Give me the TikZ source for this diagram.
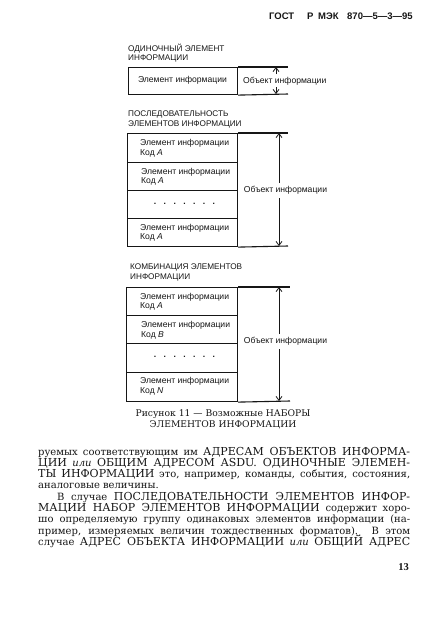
\documentclass[tikz,border=0pt]{standalone}
\usepackage{fontspec}
\setmainfont{DejaVu Serif}
\newfontfamily\dsans{Liberation Sans}
\newfontfamily\lserif{Liberation Serif}
\usetikzlibrary{arrows.meta}
\definecolor{ink}{RGB}{22,22,22}
\newcommand{\capsw}[1]{{\fontsize{11}{12}\selectfont #1}}
\begin{document}
\begin{tikzpicture}[x=1pt,y=-1pt,
  cell/.style={draw=ink, line width=1.1pt, minimum width=110pt, inner sep=0pt, anchor=north west},
  frame/.style={draw=ink, line width=1.1pt},
  arr/.style={draw=ink, line width=0.8pt, -{Straight Barb[length=4pt,width=6pt]}},
  lab/.style={font=\dsans\fontsize{8.6}{9.5}\selectfont, inner sep=0pt, text=ink},
  el/.style={lab, align=left, anchor=west},
  ttl/.style={font=\dsans\fontsize{8.2}{9.5}\selectfont, inner sep=0pt, text=ink, align=left, anchor=west},
  bl/.style={anchor=base west, inner sep=0pt, text=ink, font=\fontsize{10}{12}\selectfont},
  captxt/.style={inner sep=0pt, text=ink, font=\fontsize{9.2}{10}\selectfont},
  hd/.style={anchor=west, inner sep=0pt, text=ink, font=\dsans\bfseries\fontsize{9.5}{10}\selectfont}]
\fill[white] (0,0) rectangle (427,635);
\useasboundingbox (0,0) rectangle (427,635);

% header
\node[hd] (h1) at (269,16.5) {ГОСТ};
\node[hd] (h2) at (307,16.5) {Р};
\node[hd] (h3) at (318,16.5) {МЭК};
\node[hd] (h4) at (347,16.5) {870—5—3—95};

% ---- single element
\node[ttl] (t1) at (128,53) {ОДИНОЧНЫЙ ЭЛЕМЕНТ\\ИНФОРМАЦИИ};
\node[cell, minimum width=109pt, minimum height=27pt] (s1) at (128,67) {};
\coordinate (s1t) at (288,67);
\coordinate (s1b) at (288,94);
\draw[frame] (s1.north east) -- (s1t);
\draw[frame] (s1.south east) -- (s1b);
\node[lab] (s1e) at (182.5,80.5) {Элемент информации};
\node[lab, anchor=west] (s1o) at (243,81) {Объект информации};
\coordinate (s1au) at (276,74);
\coordinate (s1at) at (276,67);
\coordinate (s1ad) at (276,87);
\coordinate (s1ab) at (276,94);
\draw[arr] (s1au) -- (s1at);
\draw[arr] (s1ad) -- (s1ab);

% ---- sequence
\node[ttl] (t2) at (128,119.5) {ПОСЛЕДОВАТЕЛЬНОСТЬ\\ЭЛЕМЕНТОВ ИНФОРМАЦИИ};
\node[cell, minimum height=29pt] (q1) at (127,133) {};
\node[cell, minimum height=28pt] (q2) at (127,162) {};
\node[cell, minimum height=28pt] (q3) at (127,190) {};
\node[cell, minimum height=28pt] (q4) at (127,218) {};
\coordinate (qt) at (288,133);
\coordinate (qb) at (288,246);
\draw[frame] (q1.north east) -- (qt);
\draw[frame] (q4.south east) -- (qb);
\node[el] (qe1) at (140,148) {Элемент информации\\Код \textit{A}};
\node[el] (qe2) at (141,176.5) {Элемент информации\\Код \textit{A}};
\node[lab] (qd) at (184.5,204) {\textbf{.}\hspace{7.4pt}\textbf{.}\hspace{7.4pt}\textbf{.}\hspace{7.4pt}\textbf{.}\hspace{7.4pt}\textbf{.}\hspace{7.4pt}\textbf{.}\hspace{7.4pt}\textbf{.}};
\node[el] (qe4) at (140,232.5) {Элемент информации\\Код \textit{A}};
\node[lab] (qo) at (285.5,190) {Объект информации};
\coordinate (qat) at (279,133);
\coordinate (qam1) at (279,183);
\coordinate (qam2) at (279,198);
\coordinate (qab) at (279,246);
\draw[arr] (qam1) -- (qat);
\draw[arr] (qam2) -- (qab);

% ---- combination
\node[ttl] (t3) at (130,272.5) {КОМБИНАЦИЯ ЭЛЕМЕНТОВ\\ИНФОРМАЦИИ};
\node[cell, minimum width=111pt, minimum height=28pt] (k1) at (126,287) {};
\node[cell, minimum width=111pt, minimum height=28pt] (k2) at (126,315) {};
\node[cell, minimum width=111pt, minimum height=29pt] (k3) at (126,343) {};
\node[cell, minimum width=111pt, minimum height=29pt] (k4) at (126,372) {};
\coordinate (kt) at (290,287);
\coordinate (kb) at (290,401);
\draw[frame] (k1.north east) -- (kt);
\draw[frame] (k4.south east) -- (kb);
\node[el] (ke1) at (140,301.5) {Элемент информации\\Код \textit{A}};
\node[el] (ke2) at (141,330) {Элемент информации\\Код \textit{B}};
\node[lab] (kd) at (184.5,357) {\textbf{.}\hspace{7.4pt}\textbf{.}\hspace{7.4pt}\textbf{.}\hspace{7.4pt}\textbf{.}\hspace{7.4pt}\textbf{.}\hspace{7.4pt}\textbf{.}\hspace{7.4pt}\textbf{.}};
\node[el] (ke4) at (140,386) {Элемент информации\\Код \textit{N}};
\node[lab] (ko) at (285.5,341) {Объект информации};
\coordinate (kat) at (279,287);
\coordinate (kam1) at (279,334);
\coordinate (kam2) at (279,349);
\coordinate (kab) at (279,401);
\draw[arr] (kam1) -- (kat);
\draw[arr] (kam2) -- (kab);

% ---- caption
\node[captxt] (c1) at (223,414) {Рисунок 11 — Возможные НАБОРЫ};
\node[captxt] (c2) at (223,424.5) {ЭЛЕМЕНТОВ ИНФОРМАЦИИ};

% ---- body text
\node[bl] (b1) at (38,455) {\makebox[372pt][s]{руемых соответствующим им \capsw{АДРЕСАМ ОБЪЕКТОВ ИНФОРМА-}}};
\node[bl] (b2) at (38,466.3) {\makebox[372pt][s]{\capsw{ЦИИ} \textit{или} \capsw{ОБЩИМ АДРЕСОМ ASDU. ОДИНОЧНЫЕ ЭЛЕМЕН-}}};
\node[bl] (b3) at (38,477.6) {\makebox[372pt][s]{\capsw{ТЫ ИНФОРМАЦИИ} это, например, команды, события, состояния,}};
\node[bl] (b4) at (38,488.9) {аналоговые величины.};
\node[bl] (b5) at (57,500.2) {\makebox[353pt][s]{В случае \capsw{ПОСЛЕДОВАТЕЛЬНОСТИ ЭЛЕМЕНТОВ ИНФОР-}}};
\node[bl] (b6) at (38,511.5) {\makebox[372pt][s]{\capsw{МАЦИИ НАБОР ЭЛЕМЕНТОВ ИНФОРМАЦИИ} содержит хоро-}};
\node[bl] (b7) at (38,522.8) {\makebox[372pt][s]{шо определяемую группу одинаковых элементов информации (на-}};
\node[bl] (b8) at (38,534.1) {\makebox[372pt][s]{пример, измеряемых величин тождественных форматов). В этом}};
\node[bl] (b9) at (38,545.4) {\makebox[372pt][s]{случае \capsw{АДРЕС ОБЪЕКТА ИНФОРМАЦИИ} \textit{или} \capsw{ОБЩИЙ АДРЕС}}};

% page number
\node[anchor=east, inner sep=0pt, text=ink, font=\lserif\bfseries\fontsize{10.5}{11}\selectfont] (pn) at (409,567) {13};
\end{tikzpicture}
\end{document}
